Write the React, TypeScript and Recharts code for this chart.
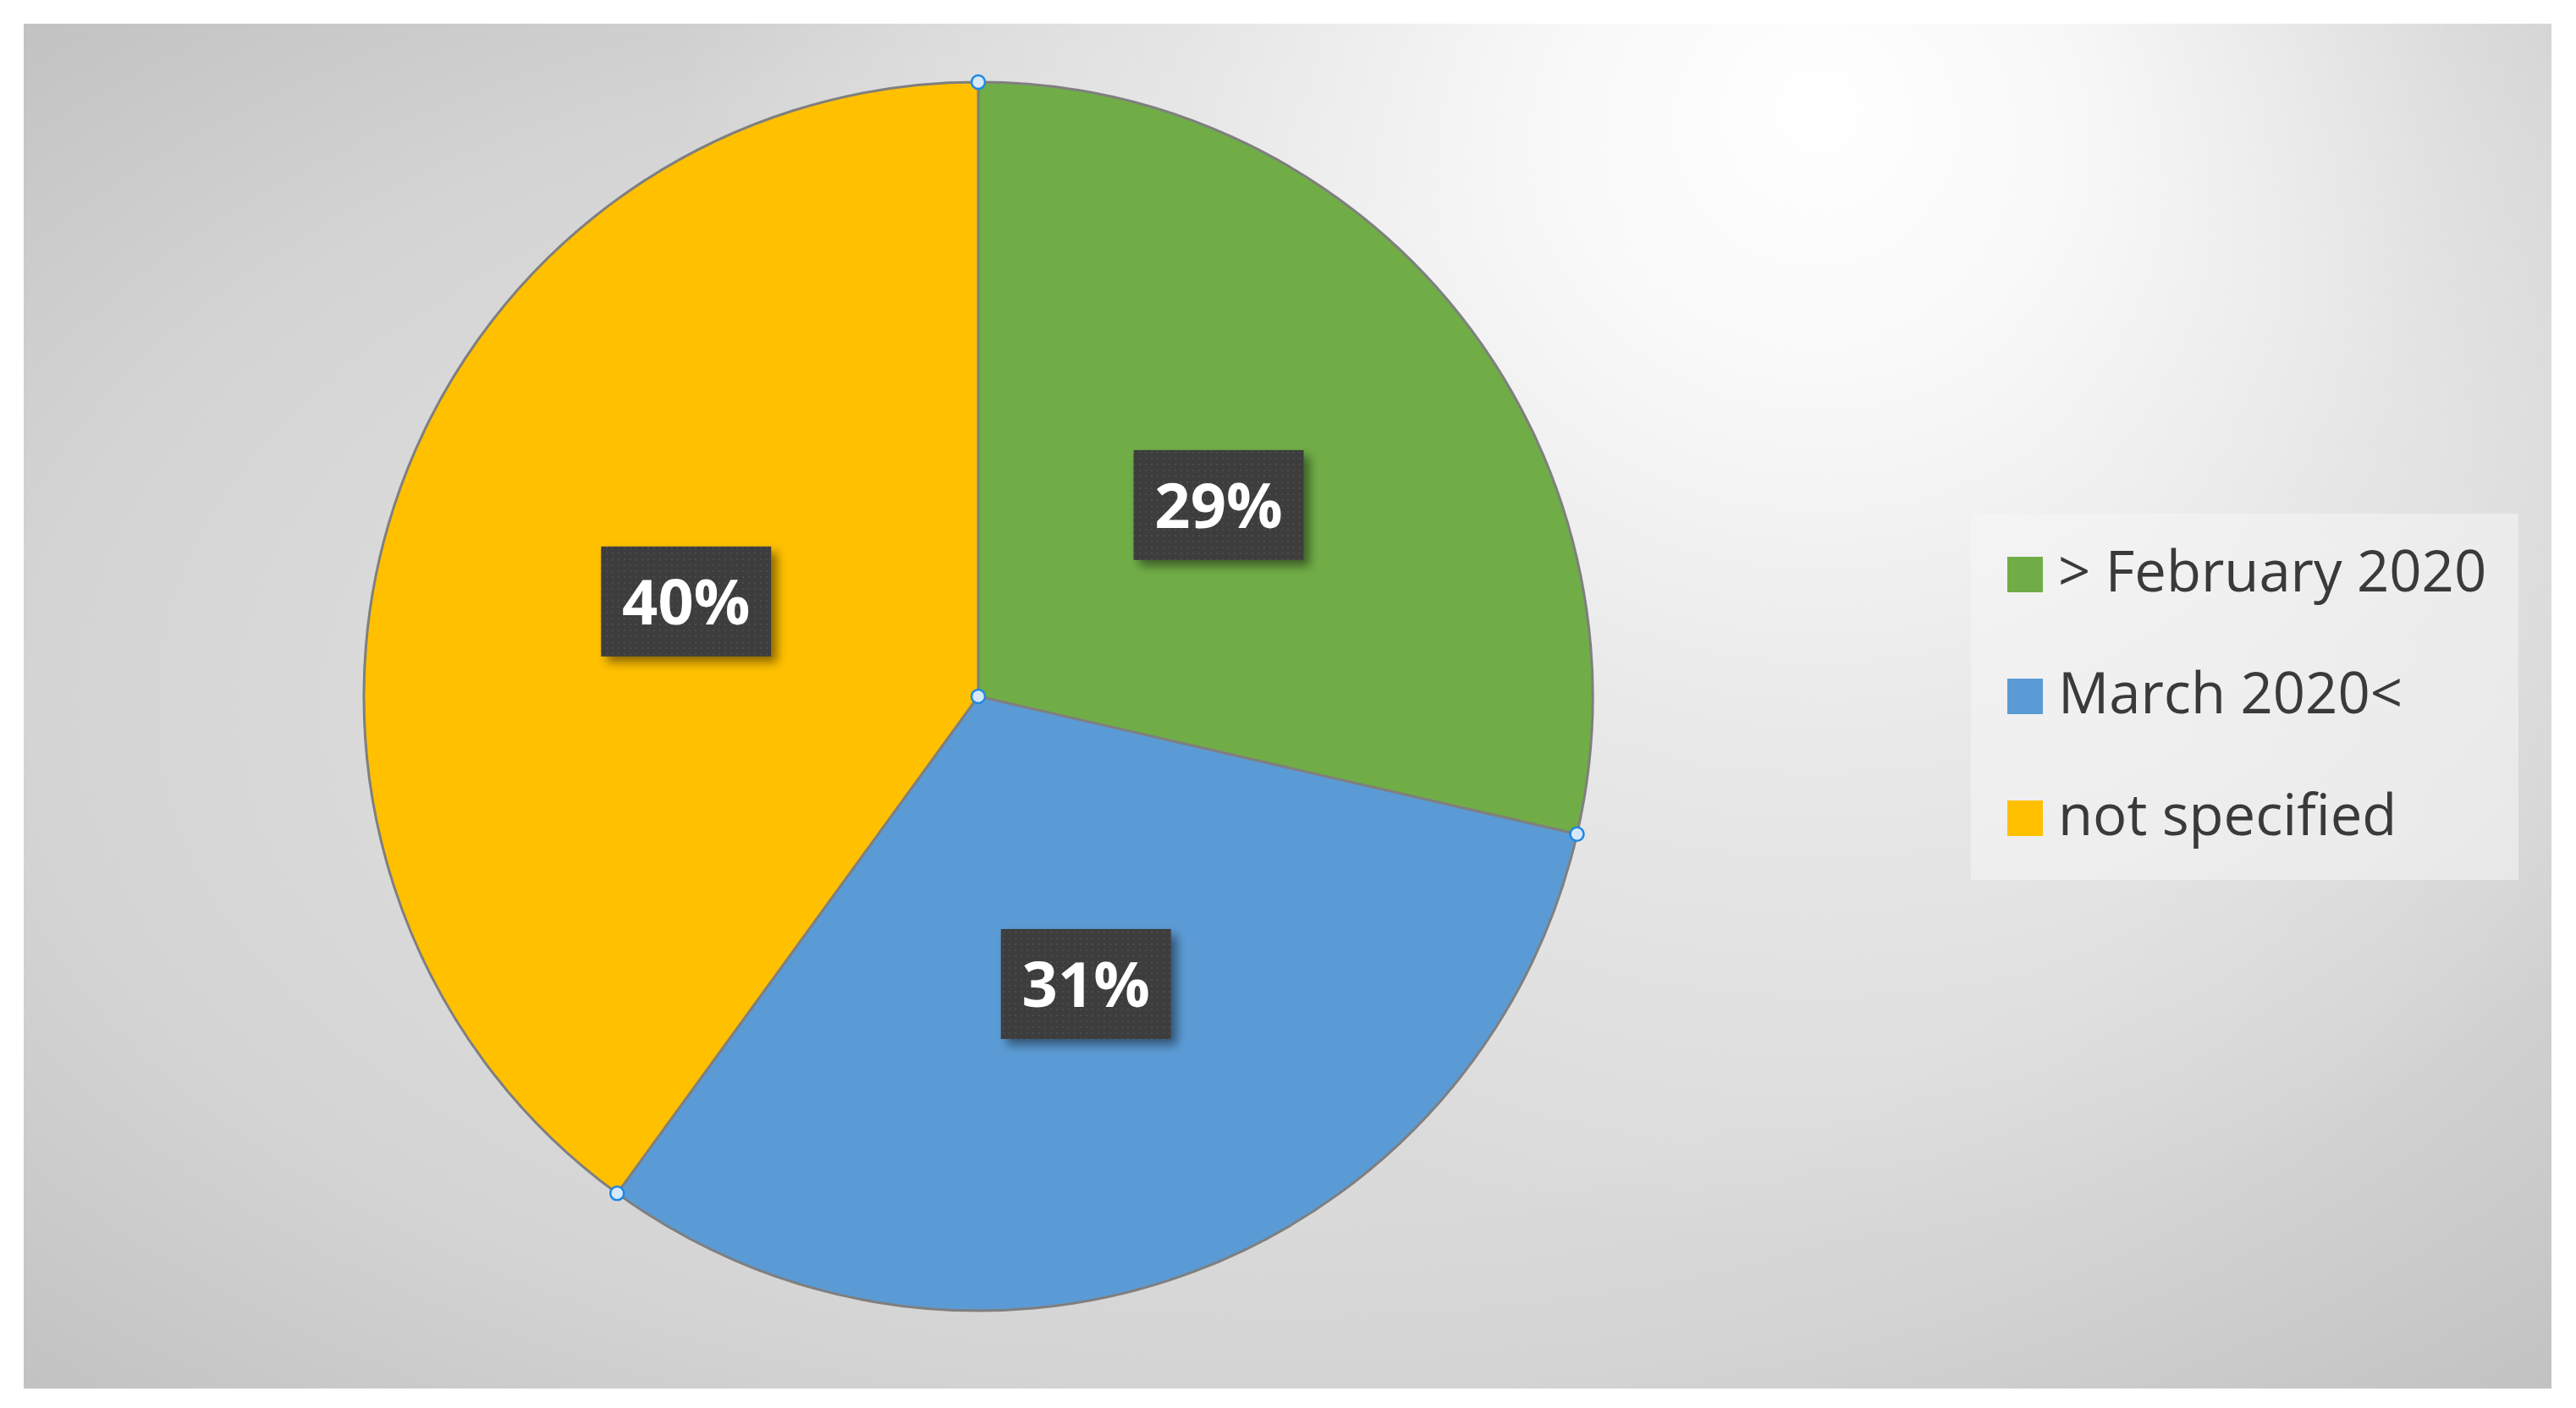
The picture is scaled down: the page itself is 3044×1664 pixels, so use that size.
import React from 'react';
import { PieChart, Pie, Cell, Legend } from 'recharts';

const categories = ['> February 2020', 'March 2020<', 'not specified'];
const shares = [28.6, 31.4, 40.0];
const colors = ['#70ad47', '#5b9bd5', '#ffc000'];

const data = categories.map((name, i) => ({ name, value: shares[i] }));

const RAD = Math.PI / 180;
const polar = (cx: number, cy: number, r: number, angle: number) => ({
  x: cx + r * Math.cos(-angle * RAD),
  y: cy + r * Math.sin(-angle * RAD),
});

const Handle = ({ x, y }: { x: number; y: number }) => (
  <circle cx={x} cy={y} r={8} fill="#d6e9fb" stroke="#1e88e5" strokeWidth={2.5} />
);

const renderLabel = (props: any) => {
  const { cx, cy, midAngle, outerRadius, startAngle, percent, index } = props;
  const c = polar(cx, cy, outerRadius * 0.5, midAngle);
  const h = polar(cx, cy, outerRadius, startAngle);
  const w = 201;
  const ht = 130;
  return (
    <g>
      {index === 0 && (
        <defs>
          <filter id="lblShadow" x="-30%" y="-30%" width="160%" height="160%">
            <feDropShadow dx="7" dy="7" stdDeviation="6" floodColor="#000" floodOpacity="0.45" />
          </filter>
          <pattern id="dots" width="7" height="7" patternUnits="userSpaceOnUse">
            <rect width="7" height="7" fill="#3e3e3e" />
            <rect x="2" y="2" width="2" height="2" fill="#4c4c4c" />
          </pattern>
        </defs>
      )}
      <rect x={c.x - w / 2} y={c.y - ht / 2} width={w} height={ht} fill="url(#dots)" filter="url(#lblShadow)" />
      <text
        x={c.x}
        y={c.y + 27}
        textAnchor="middle"
        fill="#ffffff"
        fontFamily="'Open Sans', sans-serif"
        fontWeight={700}
        fontSize={74}
      >
        {`${Math.round(percent * 100)}%`}
      </text>
      <Handle x={h.x} y={h.y} />
      {index === 0 && <Handle x={cx} y={cy} />}
    </g>
  );
};

const renderLegend = (props: any) => {
  const payload = props.payload && props.payload.length ? props.payload : [];
  const items = categories.map((name, i) => ({
    name: payload[i]?.value ?? name,
    color: payload[i]?.color ?? colors[i],
  }));
  return (
    <div
      style={{
        width: 647,
        height: 433,
        background: 'rgba(245,245,245,0.55)',
        boxSizing: 'border-box',
        paddingTop: 0,
      }}
    >
      {items.map((it) => (
        <div key={it.name} style={{ height: 144, display: 'flex', alignItems: 'center' }}>
          <div style={{ width: 42, height: 42, background: it.color, marginLeft: 43, marginRight: 18 }} />
          <span
            style={{
              fontFamily: "'Open Sans', sans-serif",
              fontSize: 67,
              color: '#3a3a3a',
              whiteSpace: 'nowrap',
              lineHeight: 1,
              position: 'relative',
              top: -6,
            }}
          >
            {it.name}
          </span>
        </div>
      ))}
    </div>
  );
};

export default function App() {
  return (
    <div style={{ position: 'absolute', left: 0, top: 0, width: 3044, height: 1664, background: '#ffffff' }}>
      <div
        style={{
          position: 'absolute',
          left: 28,
          top: 28,
          width: 2987,
          height: 1613,
          background:
            'radial-gradient(circle 1350px at 2122px 100px, rgba(255,255,255,1) 0px, rgba(255,255,255,0.85) 300px, rgba(255,255,255,0.4) 750px, rgba(255,255,255,0) 1350px), radial-gradient(ellipse farthest-corner at 50% 50%, #dadada 50%, #d4d4d4 70%, #c2c2c2 100%)',
        }}
      />
      <div style={{ position: 'absolute', left: 0, top: 0 }}>
        <PieChart width={3044} height={1664}>
          <Pie
            data={data}
            dataKey="value"
            nameKey="name"
            cx={1151}
            cy={818}
            outerRadius={726}
            startAngle={90}
            endAngle={-270}
            stroke="#7f7f7f"
            strokeWidth={3}
            label={renderLabel}
            labelLine={false}
            isAnimationActive={false}
          >
            {data.map((d, i) => (
              <Cell key={d.name} fill={colors[i]} />
            ))}
          </Pie>
          <Legend
            content={renderLegend}
            wrapperStyle={{ position: 'absolute', left: 2329, top: 607, width: 647, height: 433 }}
          />
        </PieChart>
      </div>
    </div>
  );
}
